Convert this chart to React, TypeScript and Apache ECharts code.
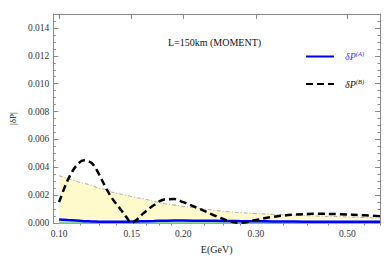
import React, { useEffect, useRef } from "react";
import * as echarts from "echarts";

const energies = [0.1, 0.105, 0.11, 0.115, 0.12, 0.125, 0.13, 0.135, 0.14, 0.145, 0.15, 0.155, 0.16, 0.17, 0.18, 0.19, 0.2, 0.22, 0.24, 0.26, 0.276, 0.3, 0.33, 0.37, 0.42, 0.48, 0.55, 0.6];
const deltaPB = [0.0015, 0.0031, 0.0041, 0.0045, 0.0043, 0.0035, 0.0025, 0.0017, 0.0011, 0.0005, 0.00002, 0.0003, 0.0007, 0.0013, 0.0017, 0.00172, 0.0015, 0.001, 0.0005, 0.00012, 0.00002, 0.00022, 0.00045, 0.0006, 0.00067, 0.00064, 0.00056, 0.0005];
const deltaPA = [0.00026, 0.00022, 0.00018, 0.00014, 0.00012, 0.0001, 0.0001, 0.0001, 0.0001, 0.0001, 0.00011, 0.00012, 0.00013, 0.00015, 0.00017, 0.00018, 0.00018, 0.00017, 0.00016, 0.00015, 0.00014, 0.00013, 0.00012, 0.00011, 0.0001, 0.0001, 0.00009, 0.00009];
const bandUpper = [0.0034, 0.0032, 0.003, 0.00285, 0.0027, 0.0025, 0.0024, 0.0022, 0.0021, 0.002, 0.0019, 0.0018, 0.00175, 0.00155, 0.0014, 0.0013, 0.0012, 0.00105, 0.0009, 0.0008, 0.00075, 0.00068, 0.00063, 0.00057, 0.00051, 0.00046, 0.0004, 0.00037];
const bandLower = [0.00005, 0.00005, 0.00005, 0.00004, 0.00004, 0.00004, 0.00004, 0.00004, 0.00004, 0.00004, 0.00004, 0.00004, 0.00004, 0.00004, 0.00004, 0.00004, 0.00004, 0.00004, 0.00004, 0.00004, 0.00004, 0.00004, 0.00004, 0.00004, 0.00004, 0.00004, 0.00004, 0.00004];
const xTickValues = [0.1, 0.15, 0.2, 0.3, 0.5];
const xMinorTickValues = [0.1125, 0.125, 0.1375, 0.1625, 0.175, 0.1875, 0.225, 0.25, 0.275, 0.35, 0.4, 0.45, 0.55, 0.6];
const xMin = 0.0968;
const xMax = 0.6;

const lg = (v: number) => Math.log10(v);
const pts = (ys: number[]) => energies.map((e, i) => [lg(e), ys[i]]);

const FONT = "Liberation Serif";
const AXIS_COLOR = "#8a8a8a";

export default function App() {
  const ref = useRef<HTMLDivElement>(null);
  useEffect(() => {
    if (!ref.current) return;
    const chart = echarts.init(ref.current, undefined, { renderer: "svg" });
    const baseX = {
      type: "value" as const,
      min: lg(xMin),
      max: lg(xMax),
      splitLine: { show: false },
      axisLine: { show: true, onZero: false, lineStyle: { color: AXIS_COLOR, width: 1 } },
    };
    const baseY = {
      type: "value" as const,
      min: 0,
      max: 0.015,
      interval: 0.002,
      splitLine: { show: false },
      axisLine: { show: true, lineStyle: { color: AXIS_COLOR, width: 1 } },
      axisTick: { show: true, inside: true, length: 5, lineStyle: { color: AXIS_COLOR } },
      minorTick: { show: true, splitNumber: 4, length: 2.5, lineStyle: { color: AXIS_COLOR } },
    };
    chart.setOption({
      animation: false,
      grid: { left: 43, right: 7, top: 14, bottom: 32 },
      xAxis: [
        {
          ...baseX,
          position: "bottom",
          name: "E(GeV)",
          nameLocation: "middle",
          nameGap: 20,
          nameTextStyle: { fontFamily: FONT, fontSize: 10, color: "#222" },
          axisTick: { show: true, inside: true, length: 5, customValues: xTickValues.map(lg), lineStyle: { color: AXIS_COLOR } },
          axisLabel: {
            show: true,
            customValues: xTickValues.map(lg),
            formatter: (v: number) => Math.pow(10, v).toFixed(2),
            fontFamily: FONT,
            fontSize: 9.5,
            color: "#333",
            margin: 6,
          },
        },
        {
          ...baseX,
          position: "top",
          axisTick: { show: true, inside: true, length: 5, customValues: xTickValues.map(lg), lineStyle: { color: AXIS_COLOR } },
          axisLabel: { show: false },
        },
        {
          ...baseX,
          position: "bottom",
          axisLine: { show: false },
          axisTick: { show: true, inside: true, length: 2.5, customValues: xMinorTickValues.map(lg), lineStyle: { color: AXIS_COLOR } },
          axisLabel: { show: false },
        },
        {
          ...baseX,
          position: "top",
          axisLine: { show: false },
          axisTick: { show: true, inside: true, length: 2.5, customValues: xMinorTickValues.map(lg), lineStyle: { color: AXIS_COLOR } },
          axisLabel: { show: false },
        },
      ],
      yAxis: [
        {
          ...baseY,
          position: "left",
          name: "|δP|",
          nameLocation: "middle",
          nameGap: 32,
          nameRotate: 90,
          nameTextStyle: { fontFamily: FONT, fontSize: 9, color: "#222" },
          axisLabel: {
            show: true,
            showMaxLabel: false,
            formatter: (v: number) => v.toFixed(3),
            fontFamily: FONT,
            fontSize: 9.5,
            color: "#333",
            margin: 4,
          },
        },
        {
          ...baseY,
          position: "right",
          axisLabel: { show: false },
        },
      ],
      legend: {
        left: 300,
        top: 45,
        orient: "vertical",
        itemWidth: 28,
        itemHeight: 12,
        itemGap: 16,
        itemStyle: { opacity: 0 },
        data: ["A", "B"],
        formatter: (name: string) =>
          name === "A" ? "{a|δP}{as|(A)}" : "{b|δP}{bs|(B)}",
        textStyle: {
          fontFamily: FONT,
          padding: [0, 0, 0, 6],
          rich: {
            a: { fontFamily: FONT, fontSize: 10, color: "#3a3aff", fontStyle: "italic" },
            as: { fontFamily: FONT, fontSize: 6.5, color: "#3a3aff", fontStyle: "italic", padding: [0, 0, 6, 0] },
            b: { fontFamily: FONT, fontSize: 10, color: "#111", fontStyle: "italic" },
            bs: { fontFamily: FONT, fontSize: 6.5, color: "#111", fontStyle: "italic", padding: [0, 0, 6, 0] },
          },
        },
      },
      graphic: [
        {
          type: "text",
          left: 168,
          top: 37,
          style: { text: "L=150km (MOMENT)", fontFamily: FONT, fontSize: 10, fill: "#111" },
        },
      ],
      series: [
        {
          name: "band",
          type: "line",
          xAxisIndex: 0,
          yAxisIndex: 0,
          data: pts(bandUpper),
          smooth: true,
          symbol: "none",
          lineStyle: { color: "#aaaaaa", width: 1, type: [4, 2, 1, 2] },
          areaStyle: { color: "#fffacb", opacity: 1, origin: "start" },
          z: 1,
        },
        {
          name: "lower",
          type: "line",
          xAxisIndex: 0,
          yAxisIndex: 0,
          data: pts(bandLower),
          smooth: true,
          symbol: "none",
          lineStyle: { color: "#8fd89a", width: 2 },
          z: 2,
        },
        {
          name: "A",
          type: "line",
          xAxisIndex: 0,
          yAxisIndex: 0,
          data: pts(deltaPA),
          smooth: true,
          symbol: "none",
          lineStyle: { color: "#0000ff", width: 2.5 },
          itemStyle: { color: "#0000ff" },
          z: 3,
        },
        {
          name: "B",
          type: "line",
          xAxisIndex: 0,
          yAxisIndex: 0,
          data: pts(deltaPB),
          smooth: 0.35,
          symbol: "none",
          lineStyle: { color: "#000000", width: 2.5, type: [7, 4] },
          itemStyle: { color: "#000000" },
          z: 4,
        },
      ],
    });
    return () => chart.dispose();
  }, []);
  return <div ref={ref} style={{ width: 387, height: 259, position: "absolute", left: 0, top: 0 }} />;
}
